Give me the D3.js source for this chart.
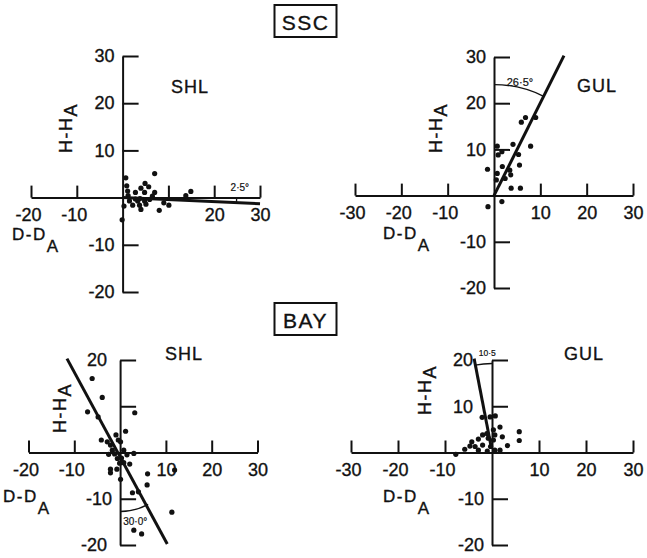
<!DOCTYPE html>
<html>
<head>
<meta charset="utf-8">
<script src="https://cdn.jsdelivr.net/npm/d3@7"></script>
<style>
body { margin: 0; background: #fff; }
svg text { font-family: "Liberation Sans", Arial, sans-serif; fill: #111; stroke: #111; stroke-width: 0.35px; }
</style>
</head>
<body>
<div id="chart"></div>
<script>
// points: [D-DA, H-HA]
var sscShl = [[0.7,4.2],[0.9,2.5],[1.1,1.4],[2.8,1.1],[4.0,2.0],[4.9,3.0],[5.7,2.3],[4.8,1.1],
  [7.0,5.1],[7.0,1.1],[14.9,1.3],[13.8,0.4],[0.3,-1.8],[1.5,-0.7],[2.2,-1.6],[3.3,-0.7],
  [3.7,-1.6],[4.0,-2.5],[4.8,-0.7],[5.1,-1.4],[5.9,-0.4],[8.0,-2.7],[9.0,-1.1],[10.1,-1.6],
  [-0.1,-4.7],[2.8,-0.3],[6.5,0.3],[1.2,0.4],[3.8,-0.2]];
var sscGul = [[6.8,16.9],[5.9,15.9],[9.0,16.9],[0.7,10.7],[0.9,8.8],[1.7,9.5],[4.1,11.1],
  [7.9,10.7],[5.3,8.9],[5.5,6.6],[-1.4,5.7],[1.8,6.3],[0.7,4.8],[3.4,5.5],[3.6,4.5],
  [2.4,3.7],[0.5,3.4],[3.7,1.6],[5.7,1.6],[1.7,-1.3],[-1.3,-2.4]];
var bayShl = [[-6.1,16.0],[-3.9,11.9],[-7.1,8.8],[-4.8,7.7],[3.2,8.6],[1.2,4.6],[-0.9,3.8],
  [-0.4,2.7],[-4.1,2.7],[-2.8,2.3],[-2.1,1.6],[0.1,2.3],[-1.7,0.5],[0.8,0.5],[-1.2,-0.3],
  [1.5,-0.5],[3.0,-0.2],[-2.5,-0.4],[0.3,-1.2],[-0.6,-1.3],[-0.1,-2.3],[2.1,-2.5],[0.8,-2.2],
  [-2.1,-3.6],[-2.1,-4.4],[-0.7,-3.6],[0.1,-5.8],[6.0,-4.6],[11.9,-3.8],[5.9,-7.0],
  [2.7,-8.7],[4.0,-8.5],[11.3,-12.9],[3.0,-16.8],[4.7,-17.6]];
var bayGul = [[-2.1,7.6],[-0.4,7.7],[0.7,7.9],[1.7,5.5],[5.8,4.5],[5.8,2.6],[3.3,1.5],
  [2.2,3.4],[0.6,3.8],[0.3,2.7],[1.7,0.5],[-0.8,3.1],[-2.0,3.8],[-2.9,2.9],[-4.3,2.3],
  [-4.7,1.4],[-3.6,1.3],[-5.8,0.7],[-2.9,0.5],[-7.7,-0.4],[-2.0,1.6],[-0.3,1.3],[0.6,0.5],
  [-1.1,4.1],[0.3,4.9],[-1.0,0.3]];

// fitted lines, written from the origin end outwards, and the angle they make with the axis
var sscShlFit = [[0,0],[30,-1.3]];
var sscGulFit = [[0,0],[15.1,30.3]];
var bayShlFit = [[-11.6,20.3],[10.3,-19.8]];
var bayGulFit = [[-0.1,0.8],[-3.8,20.3]];
var angleText = ["2\u00b75\u00b0", "26\u00b75\u00b0", "30\u00b70\u00b0", "10\u00b75"];

// ticks and labels
var xTicks5 = [-20,-10,10,20,30];
var xTicks6 = [-30,-20,-10,10,20,30];
var yTicks5 = [-20,-10,10,20,30];
var yTicks4 = [-20,-10,10,20];
var xLabSscShl = [-20,-10,20,30];
var xLabBayShl = [-20,-10,10,20,30];
var yLabBayShl = [-20,-10,20];

var svg = d3.select("#chart").append("svg")
    .attr("width", 647)
    .attr("height", 558);

var panels = [
  {pts: sscShl, fit: sscShlFit, ang: angleText[0], name: "SHL",
   xDom: [-20,30], xRange: [31,260], yDom: [-20,30], yRange: [292,56],
   xTicks: xTicks5, xLab: xLabSscShl, yTicks: yTicks5, yLab: yTicks5, yShift: {},
   arc: {r: 114, from: 0}, angPos: [25.6,1.3], angSize: 10,
   title: [190,93], hLab: [72,153], dLab: [12,240]},
  {pts: sscGul, fit: sscGulFit, ang: angleText[1], name: "GUL",
   xDom: [-30,30], xRange: [355,633], yDom: [-20,30], yRange: [288,57],
   xTicks: xTicks6, xLab: xTicks6, yTicks: yTicks5, yLab: yTicks5, yShift: {},
   arc: {r: 111, from: -90}, angPos: [5.6,23.7], angSize: 11,
   title: [597,92], hLab: [442,153], dLab: [383,239]},
  {pts: bayShl, fit: bayShlFit, ang: angleText[2], name: "SHL",
   xDom: [-20,30], xRange: [28.5,257.5], yDom: [-20,20], yRange: [545,360],
   xTicks: xTicks5, xLab: xLabBayShl, yTicks: yTicks4, yLab: yLabBayShl, yShift: {"20": 5, "-20": 5},
   arc: {r: 59, from: 90}, angPos: [3.3,-15.7], angSize: 10,
   title: [184,360], hLab: [66,433], dLab: [3,502]},
  {pts: bayGul, fit: bayGulFit, ang: angleText[3], name: "GUL",
   xDom: [-30,30], xRange: [351,633], yDom: [-20,20], yRange: [545,360],
   xTicks: xTicks6, xLab: xTicks6, yTicks: yTicks4, yLab: yTicks4, yShift: {"20": 11, "10": 11},
   arc: {r: 89, from: -90}, angPos: [-1.0,20.8], angSize: 8.5,
   title: [584,360], hLab: [431,415], dLab: [383,502]}
];

panels.forEach(drawPanel);

// boxed group titles
[["SSC", 5], ["BAY", 303]].forEach(function(t) {
  svg.append("rect")
      .attr("x", 274.5).attr("y", t[1])
      .attr("width", 62).attr("height", 32)
      .attr("fill", "none").attr("stroke", "#111").attr("stroke-width", 2);
  svg.append("text")
      .attr("x", 305.5).attr("y", t[1] + 25)
      .attr("text-anchor", "middle")
      .style("font-size", "21px")
      .style("letter-spacing", "1.5px")
      .text(t[0]);
});

function drawPanel(p) {
  var x = d3.scaleLinear().domain(p.xDom).range(p.xRange);
  var y = d3.scaleLinear().domain(p.yDom).range(p.yRange);
  var g = svg.append("g");

  // x axis, ticks pointing up
  var xg = g.append("g")
      .attr("transform", "translate(0," + y(0) + ")")
      .call(d3.axisBottom(x)
        .tickValues(p.xTicks)
        .tickSizeInner(-12).tickSizeOuter(0).tickPadding(11)
        .tickFormat(function(d) { return p.xLab.indexOf(d) >= 0 ? d : ""; }));
  styleAxis(xg);
  xg.selectAll("text").each(function(d) {
    if (d < 0) d3.select(this).attr("text-anchor", "end").attr("x", 10);
  });

  // y axis, ticks pointing right
  var yg = g.append("g")
      .attr("transform", "translate(" + x(0) + ",0)")
      .call(d3.axisLeft(y)
        .tickValues(p.yTicks)
        .tickSizeInner(-16).tickSizeOuter(0).tickPadding(8)
        .tickFormat(function(d) { return p.yLab.indexOf(d) >= 0 ? d : ""; }));
  styleAxis(yg);
  yg.selectAll("text").each(function(d) {
    if (p.yShift[d]) d3.select(this).attr("x", -8 - p.yShift[d]);
  });

  // points
  g.selectAll(".dot")
      .data(p.pts)
    .enter().append("circle")
      .attr("class", "dot")
      .attr("cx", function(d) { return x(d[0]); })
      .attr("cy", function(d) { return y(d[1]); })
      .attr("r", 2.6)
      .attr("fill", "#111");

  // fitted line
  g.append("path")
      .datum(p.fit)
      .attr("d", d3.line().x(function(d) { return x(d[0]); }).y(function(d) { return y(d[1]); }))
      .attr("fill", "none")
      .attr("stroke", "#111")
      .attr("stroke-width", 3);

  // angle arc between axis and fitted line
  var f0 = p.fit[0], f1 = p.fit[1];
  var lineAng = Math.atan2(y(f1[1]) - y(f0[1]), x(f1[0]) - x(f0[0]));
  var a0 = p.arc.from * Math.PI / 180;
  var ap = d3.path();
  ap.arc(x(0), y(0), p.arc.r, Math.min(a0, lineAng), Math.max(a0, lineAng));
  g.append("path")
      .attr("d", ap.toString())
      .attr("fill", "none")
      .attr("stroke", "#111")
      .attr("stroke-width", 1.3);

  g.append("text")
      .attr("x", x(p.angPos[0]))
      .attr("y", y(p.angPos[1]))
      .attr("text-anchor", "middle")
      .style("font-size", p.angSize + "px")
      .style("stroke-width", "0.2px")
      .text(p.ang);

  // panel name
  g.append("text")
      .attr("x", p.title[0]).attr("y", p.title[1])
      .attr("text-anchor", "middle")
      .style("font-size", "18px")
      .style("letter-spacing", "1px")
      .text(p.name);

  // H-HA rotated label
  var h = g.append("text")
      .attr("transform", "translate(" + p.hLab[0] + "," + p.hLab[1] + ") rotate(-90)")
      .style("font-size", "18px")
      .style("letter-spacing", "1.5px");
  h.append("tspan").text("H-H");
  h.append("tspan").attr("dy", 5).text("A");

  // D-DA label
  var dl = g.append("text")
      .attr("x", p.dLab[0]).attr("y", p.dLab[1])
      .style("font-size", "17px")
      .style("letter-spacing", "1.5px");
  dl.append("tspan").text("D-D");
  dl.append("tspan").attr("dy", 12).text("A");
}

function styleAxis(sel) {
  sel.attr("color", "#111");
  sel.select(".domain").attr("stroke-width", 2);
  sel.selectAll(".tick line").attr("stroke-width", 2);
  sel.selectAll("text")
      .attr("font-family", null)
      .style("font-size", "18px");
  sel.attr("font-size", null).attr("font-family", null);
}
</script>
</body>
</html>
